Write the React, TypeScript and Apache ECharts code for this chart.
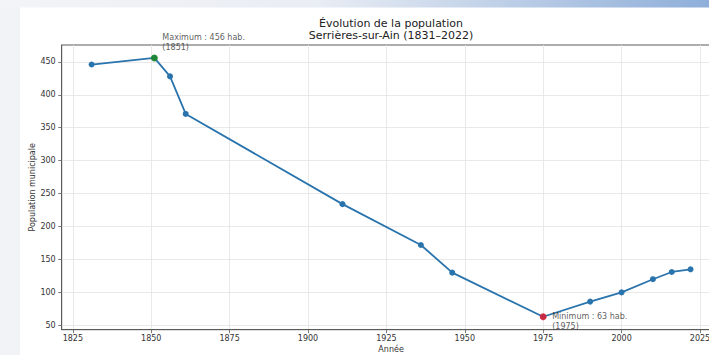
import React, { useEffect, useRef } from "react";
import * as echarts from "echarts";

const years = [1831, 1851, 1856, 1861, 1911, 1936, 1946, 1975, 1990, 2000, 2010, 2016, 2022];
const population = [446, 456, 428, 371, 234, 172, 130, 63, 86, 100, 120, 131, 135];
const xTicks = [1825, 1850, 1875, 1900, 1925, 1950, 1975, 2000, 2025];
const yTicks = [50, 100, 150, 200, 250, 300, 350, 400, 450];
const titleLines = ["Évolution de la population", "Serrières-sur-Ain (1831–2022)"];
const xName = "Année";
const yName = "Population municipale";
const maxPoint = { year: 1851, value: 456 };
const minPoint = { year: 1975, value: 63 };

const FONT = "DejaVu Sans";

export default function App() {
  const ref = useRef<HTMLDivElement>(null);
  useEffect(() => {
    if (!ref.current) return;
    const chart = echarts.init(ref.current, null, { renderer: "svg" });
    const span = years[years.length - 1] - years[0];
    const xMin = years[0] - span * 0.05;
    const xMax = years[years.length - 1] + span * 0.05;
    const vMin = Math.min(...population);
    const vMax = Math.max(...population);
    const yMin = vMin - (vMax - vMin) * 0.05;
    const yMax = vMax + (vMax - vMin) * 0.05;

    chart.setOption({
      animation: false,
      backgroundColor: "#ffffff",
      graphic: [
        {
          type: "rect",
          z: -10,
          shape: { x: 0, y: 0, width: 20, height: 355 },
          style: { fill: "#f1f3f6" },
          silent: true,
        },
        {
          type: "rect",
          z: -10,
          shape: { x: 0, y: 0, width: 709, height: 7.5 },
          style: {
            fill: new echarts.graphic.LinearGradient(0, 0, 1, 0, [
              { offset: 0, color: "#f3f4f6" },
              { offset: 0.45, color: "#e9edf4" },
              { offset: 1, color: "#8eaed9" },
            ]),
          },
          silent: true,
        },
        {
          type: "text",
          x: 391,
          y: 23,
          style: {
            text: titleLines[0],
            align: "center",
            verticalAlign: "middle",
            fontFamily: FONT,
            fontSize: 11,
            fill: "#222",
          },
        },
        {
          type: "text",
          x: 391,
          y: 35,
          style: {
            text: titleLines[1],
            align: "center",
            verticalAlign: "middle",
            fontFamily: FONT,
            fontSize: 11,
            fill: "#222",
          },
        },
      ],
      grid: {
        left: 61.7,
        top: 45,
        right: -11.5,
        bottom: 25.3,
        show: true,
        borderColor: "#5a5a5a",
        borderWidth: 1,
        backgroundColor: "transparent",
        outerBoundsMode: "none",
        containLabel: false,
      },
      xAxis: {
        type: "value",
        min: xMin,
        max: xMax,
        name: xName,
        nameLocation: "middle",
        nameGap: 15.5,
        nameMoveOverlap: false,
        nameTextStyle: { fontFamily: FONT, fontSize: 8, color: "#333" },
        axisLine: { show: true, lineStyle: { color: "#5a5a5a", width: 1 } },
        axisTick: {
          show: true,
          length: 3.5,
          inside: false,
          customValues: xTicks,
          lineStyle: { color: "#5a5a5a", width: 0.8 },
        },
        axisLabel: {
          customValues: xTicks,
          formatter: (v: number) => String(Math.round(v)),
          fontFamily: FONT,
          fontSize: 8,
          color: "#333",
          margin: 5,
          showMinLabel: true,
          showMaxLabel: true,
          hideOverlap: false,
        },
        splitLine: { show: true, lineStyle: { color: "#e3e3e3", width: 0.8 } },
      },
      yAxis: {
        type: "value",
        min: yMin,
        max: yMax,
        name: yName,
        nameLocation: "middle",
        nameGap: 25,
        nameMoveOverlap: false,
        nameTextStyle: { fontFamily: FONT, fontSize: 8, color: "#333" },
        axisLine: { show: true, lineStyle: { color: "#5a5a5a", width: 1 } },
        axisTick: {
          show: true,
          length: 3.5,
          inside: false,
          customValues: yTicks,
          lineStyle: { color: "#5a5a5a", width: 0.8 },
        },
        axisLabel: {
          customValues: yTicks,
          formatter: (v: number) => String(Math.round(v)),
          fontFamily: FONT,
          fontSize: 8,
          color: "#333",
          margin: 6,
          showMinLabel: true,
          showMaxLabel: true,
        },
        splitLine: { show: true, lineStyle: { color: "#e3e3e3", width: 0.8 } },
      },
      series: [
        {
          type: "line",
          data: years.map((y, i) => [y, population[i]]),
          symbol: "circle",
          symbolSize: 6,
          showAllSymbol: true,
          itemStyle: { color: "#2a74ad" },
          lineStyle: { color: "#2a74ad", width: 1.8 },
          z: 3,
        },
        {
          type: "scatter",
          data: [[maxPoint.year, maxPoint.value]],
          symbol: "circle",
          symbolSize: 7,
          itemStyle: { color: "#1a8a1a" },
          z: 5,
          label: {
            show: true,
            position: "inside",
            align: "left",
            verticalAlign: "bottom",
            offset: [8, -5],
            formatter: `Maximum : ${maxPoint.value} hab.\n(${maxPoint.year})`,
            fontFamily: FONT,
            fontSize: 8,
            lineHeight: 10,
            color: "#333",
          },
        },
        {
          type: "scatter",
          data: [[minPoint.year, minPoint.value]],
          symbol: "circle",
          symbolSize: 7,
          itemStyle: { color: "#e8182a" },
          z: 5,
          label: {
            show: true,
            position: "inside",
            align: "left",
            verticalAlign: "top",
            offset: [9, -5],
            formatter: `Minimum : ${minPoint.value} hab.\n(${minPoint.year})`,
            fontFamily: FONT,
            fontSize: 8,
            lineHeight: 10,
            color: "#333",
          },
        },
      ],
    });
    return () => chart.dispose();
  }, []);
  return (
    <div
      ref={ref}
      style={{ position: "absolute", left: 0, top: 0, width: 709, height: 355, overflow: "hidden" }}
    />
  );
}
